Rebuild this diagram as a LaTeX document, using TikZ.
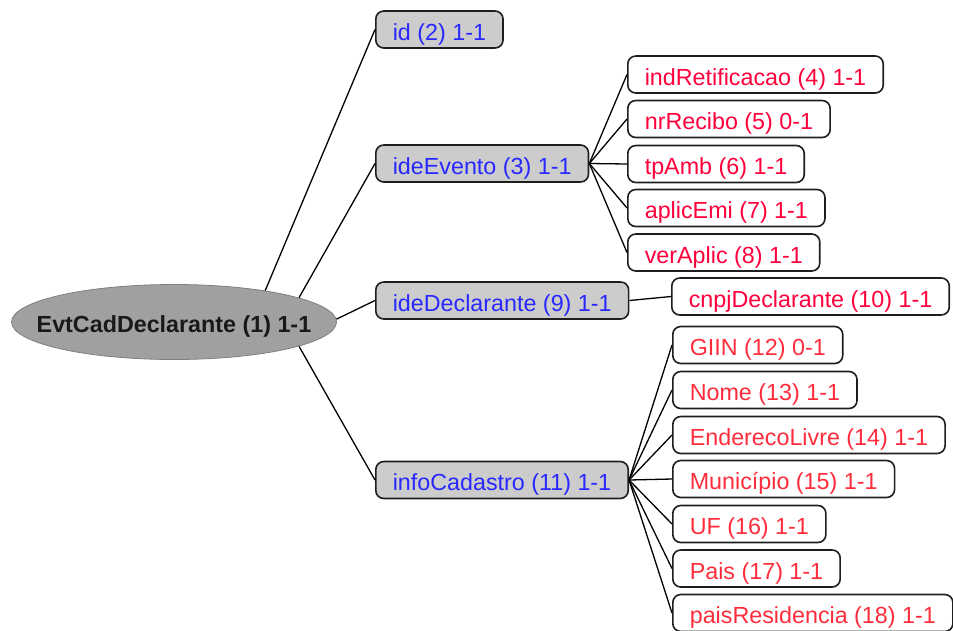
\documentclass[tikz,border=0pt]{standalone}
\usepackage{fontspec}
\setmainfont{Liberation Sans}
\usetikzlibrary{shapes.geometric}
\definecolor{tblue}{RGB}{40,40,255}
\definecolor{tred}{RGB}{255,0,60}
\definecolor{tred2}{RGB}{255,45,60}
\definecolor{boxgray}{RGB}{204,204,204}
\definecolor{rootgray}{RGB}{160,160,160}
\definecolor{edgedark}{RGB}{30,30,30}
\begin{document}
\begin{tikzpicture}[x=1pt,y=-1pt,
  every node/.style={font=\fontsize{23.3}{27}\selectfont},
  txt/.style={text height=25pt, text depth=4pt},
  gbox/.style={txt, draw=edgedark, line width=1.6pt, rounded corners=8pt, fill=boxgray,
    text=tblue, anchor=west, minimum height=37pt, inner xsep=17pt, inner ysep=0pt},
  wbox/.style={txt, draw=edgedark, line width=1.6pt, rounded corners=8pt, fill=white,
    text=tred, anchor=west, minimum height=37pt, inner xsep=17pt, inner ysep=0pt},
  wbox2/.style={wbox, text=tred2},
  link/.style={draw=black, line width=1.3pt}]
\useasboundingbox (0,0) rectangle (953,630);
\begin{scope}
\clip (0,0) rectangle (953,630);
\node[ellipse, draw=gray, line width=0.8pt, fill=rootgray, minimum width=325pt, minimum height=75pt, inner sep=0pt] (root) at (174,322) {};
\node[txt, inner sep=0pt, font=\fontsize{23.3}{27}\selectfont\bfseries, text=black!90] (rootlabel) at (root.center) {EvtCadDeclarante (1) 1-1};

\node[gbox] (id) at (375,29.5) {id (2) 1-1};
\node[gbox] (ev) at (375,163.5) {ideEvento (3) 1-1};
\node[gbox] (dec) at (375,300.5) {ideDeclarante (9) 1-1};
\node[gbox] (info) at (375,480) {infoCadastro (11) 1-1};

\node[wbox] (ind) at (627,74.5) {indRetificacao (4) 1-1};
\node[wbox] (nr) at (627,119) {nrRecibo (5) 0-1};
\node[wbox] (tp) at (627,164) {tpAmb (6) 1-1};
\node[wbox] (apl) at (627,208) {aplicEmi (7) 1-1};
\node[wbox] (ver) at (627,252.5) {verAplic (8) 1-1};

\node[wbox] (cnpj) at (671,296.5) {cnpjDeclarante (10) 1-1};

\node[wbox2] (giin) at (672,345) {GIIN (12) 0-1};
\node[wbox2] (nome) at (672,390) {Nome (13) 1-1};
\node[wbox2] (end) at (672,435) {EnderecoLivre (14) 1-1};
\node[wbox2] (mun) at (672,479) {Município (15) 1-1};
\node[wbox2] (uf) at (672,524) {UF (16) 1-1};
\node[wbox2] (pais) at (672,568.5) {Pais (17) 1-1};
\node[wbox2] (pres) at (672,613) {paisResidencia (18) 1-1};

\draw[link] (root.19.4) -- (id.west);
\draw[link] (root.11.2) -- (ev.west);
\draw[link] (root.1.4) -- (dec.west);
\draw[link] (root.-11.3) -- (info.west);

\foreach \n in {ind,nr,tp,apl,ver} \draw[link] (ev.east) -- (\n.west);
\draw[link] (dec.east) -- (cnpj.west);
\foreach \n in {giin,nome,end,mun,uf,pais,pres} \draw[link] (info.east) -- (\n.west);
\end{scope}
\end{tikzpicture}
\end{document}
